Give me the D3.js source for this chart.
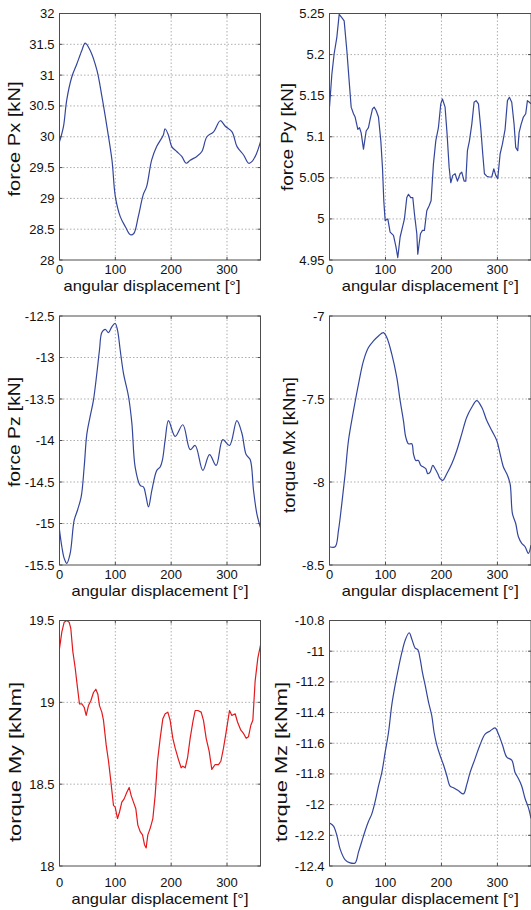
<!DOCTYPE html>
<meta charset="utf-8">
<title>Forces and torques vs angular displacement</title>
<style>
  body {
    margin: 0;
    background: #fff;
  }

  svg {
    display: block;
    font-family: "Liberation Sans", Arial, Helvetica, sans-serif;
  }

  .frame {
    fill: none;
    stroke: #4d4d4d;
    stroke-width: 1px;
  }

  .grid line {
    stroke: #9a9a9a;
    stroke-width: 0.8px;
    stroke-dasharray: 1.5, 2;
  }

  .tick-mark {
    stroke: #4d4d4d;
    stroke-width: 1px;
  }

  .tick-label {
    font-size: 13px;
    fill: #111;
  }

  .axis-label {
    font-size: 16px;
    fill: #111;
  }

  .x-label {
    font-size: 15px;
  }

  .curve {
    fill: none;
    stroke-width: 1.2px;
    stroke-linejoin: round;
  }
</style>
<svg width="531" height="910"></svg>
<script src="https://cdn.jsdelivr.net/npm/d3@7"></script>
<script>
  // shared x axis
  var xTicks = [0, 100, 200, 300];

  // force Px [kN]
  var pxAngle = [0, 7, 13, 22, 31, 40, 46, 55, 67, 76, 85, 94, 100, 109, 118, 127, 133, 141, 150, 156, 165, 174, 186, 189, 195, 201, 210, 219, 227, 234, 246, 255, 264, 276, 288, 297, 309, 318, 330, 339, 345, 353, 360];
  var pxValue = [29.92, 30.16, 30.6, 30.97, 31.18, 31.4, 31.52, 31.4, 31.08, 30.65, 30.16, 29.62, 29.03, 28.7, 28.54, 28.41, 28.43, 28.7, 29.06, 29.19, 29.62, 29.84, 30.03, 30.13, 30.03, 29.84, 29.76, 29.68, 29.57, 29.62, 29.68, 29.76, 30.0, 30.08, 30.26, 30.17, 30.08, 29.84, 29.7, 29.57, 29.6, 29.73, 29.92];
  var pxTicks = [28, 28.5, 29, 29.5, 30, 30.5, 31, 31.5, 32];

  // force Py [kN]
  var pyAngle = [0, 4.2, 8.3, 13.1, 17.3, 22, 26.2, 31, 35.1, 38.7, 42.9, 45.8, 50.6, 53.6, 56.5, 60.7, 65.5, 69.6, 72.6, 76.8, 79.8, 83.3, 87.5, 91.7, 94.6, 97, 99.4, 104.2, 108.3, 114.3, 118.5, 122, 126.2, 130.4, 133.9, 138.1, 141.1, 145.2, 148.8, 151.8, 156, 157.7, 162.5, 166.1, 169.6, 173.8, 178, 181.5, 185.7, 189.9, 194.6, 198.8, 201.8, 206.5, 210.1, 213.7, 216.7, 220.2, 224.4, 228.6, 233.3, 236.3, 240.5, 243.5, 246.4, 250, 254.2, 258.3, 261.9, 266.1, 270.2, 273.8, 276.8, 281, 285.1, 289.9, 293.5, 297, 300.6, 304.8, 308.9, 313.7, 317.9, 321.4, 325.6, 329.8, 332.7, 336.3, 338.7, 342.3, 346.4, 350.6, 353.6, 357.1, 360];
  var pyValue = [5.136, 5.176, 5.201, 5.221, 5.249, 5.245, 5.241, 5.205, 5.168, 5.136, 5.128, 5.124, 5.109, 5.111, 5.105, 5.085, 5.107, 5.111, 5.121, 5.134, 5.136, 5.132, 5.124, 5.095, 5.063, 5.022, 4.998, 5.0, 4.984, 4.98, 4.967, 4.953, 4.978, 4.99, 5.0, 5.026, 5.03, 5.026, 5.026, 5.006, 4.982, 4.957, 4.982, 4.986, 4.986, 5.01, 5.016, 5.022, 5.067, 5.095, 5.111, 5.14, 5.146, 5.136, 5.103, 5.063, 5.044, 5.053, 5.055, 5.046, 5.055, 5.057, 5.046, 5.046, 5.083, 5.095, 5.115, 5.142, 5.144, 5.14, 5.111, 5.079, 5.055, 5.052, 5.051, 5.051, 5.061, 5.053, 5.049, 5.079, 5.091, 5.109, 5.144, 5.148, 5.142, 5.115, 5.087, 5.083, 5.105, 5.115, 5.124, 5.128, 5.144, 5.142, 5.14];
  var pyTicks = [4.95, 5, 5.05, 5.1, 5.15, 5.2, 5.25];

  // force Pz [kN]
  var pzAngle = [0, 4.2, 8.4, 13.1, 19.1, 26.3, 32.2, 38.8, 44.2, 49, 54.9, 60.9, 66.9, 71.6, 75.8, 81.8, 87.8, 93.7, 99.7, 103.9, 108.7, 114.6, 123.6, 129.6, 135.5, 144.5, 150.4, 154.6, 159.4, 165.4, 174.3, 180.3, 184.5, 189.3, 195.2, 207.2, 220.9, 234, 243, 256.7, 268.7, 280.6, 292.5, 304.5, 317.6, 326.6, 334.3, 341.5, 347.5, 353.4, 360];
  var pzValue = [-15.08, -15.28, -15.42, -15.48, -15.36, -14.96, -14.84, -14.68, -14.32, -13.92, -13.71, -13.51, -13.19, -12.91, -12.7, -12.66, -12.7, -12.63, -12.59, -12.67, -12.91, -13.19, -13.47, -13.79, -14.32, -14.54, -14.56, -14.66, -14.8, -14.6, -14.36, -14.32, -14.23, -13.99, -13.76, -13.95, -13.81, -14.11, -14.06, -14.36, -14.17, -14.3, -13.99, -14.06, -13.76, -13.91, -14.17, -14.23, -14.6, -14.88, -15.05];
  var pzTicks = [-15.5, -15, -14.5, -14, -13.5, -13, -12.5];

  // torque Mx [kNm]
  var mxAngle = [0, 10.1, 16.1, 22, 28, 33.9, 42.9, 51.8, 60.7, 69.6, 78.6, 87.5, 96.4, 102.4, 111.3, 120.2, 126.2, 132.1, 136.3, 141.1, 147, 150, 154.2, 158.9, 163.1, 167.9, 172, 175.6, 179.8, 184.5, 188.7, 193.5, 197.6, 202.4, 209.5, 218.5, 227.4, 236.3, 245.2, 254.2, 263.1, 272, 281, 289.9, 298.8, 304.8, 310.7, 316.7, 322.6, 326.8, 332.7, 337.5, 343.5, 349.4, 355.4, 360];
  var mxValue = [-8.39, -8.39, -8.29, -8.13, -7.95, -7.75, -7.57, -7.41, -7.27, -7.19, -7.15, -7.12, -7.1, -7.13, -7.23, -7.37, -7.51, -7.63, -7.73, -7.77, -7.77, -7.83, -7.87, -7.87, -7.9, -7.91, -7.92, -7.95, -7.94, -7.9, -7.92, -7.95, -7.98, -7.99, -7.95, -7.89, -7.81, -7.71, -7.61, -7.55, -7.51, -7.55, -7.63, -7.69, -7.75, -7.83, -7.91, -7.95, -8.01, -8.19, -8.25, -8.33, -8.37, -8.39, -8.43, -8.38];
  var mxTicks = [-8.5, -8, -7.5, -7];

  // torque My [kNm]
  var myAngle = [0, 4.2, 8.4, 13.1, 17.3, 20.3, 23.9, 28.1, 32.2, 35.8, 40, 44.2, 47.8, 51.9, 56.1, 60.9, 65.1, 68.7, 71.6, 75.8, 78.8, 83.6, 87.8, 91.9, 96.7, 99.7, 103.9, 107.5, 111.6, 115.8, 120.6, 124.8, 128.4, 132.5, 136.7, 140.3, 144.5, 148.7, 152.2, 155.2, 158.2, 162.4, 167.2, 171.3, 175.5, 180.3, 185.1, 189.3, 194, 198.2, 203, 207.2, 213.1, 217.9, 220.9, 225.1, 229.3, 234, 238.8, 243, 247.8, 253.7, 257.9, 262.7, 268.1, 272.8, 278.8, 284.8, 289, 293.7, 298.5, 304.5, 308.7, 314.6, 318.8, 324.8, 329.6, 334.3, 338.5, 342.7, 346.3, 350.4, 355.2, 360];
  var myValue = [19.33, 19.43, 19.49, 19.5, 19.49, 19.45, 19.31, 19.21, 19.09, 18.99, 18.99, 18.97, 18.92, 18.98, 19.01, 19.06, 19.08, 19.05, 18.98, 18.94, 18.89, 18.74, 18.64, 18.52, 18.37, 18.36, 18.29, 18.33, 18.39, 18.41, 18.45, 18.48, 18.43, 18.39, 18.35, 18.25, 18.21, 18.19, 18.13, 18.11, 18.19, 18.23, 18.29, 18.43, 18.64, 18.78, 18.9, 18.93, 18.94, 18.89, 18.78, 18.72, 18.65, 18.6, 18.61, 18.6, 18.66, 18.78, 18.88, 18.95, 18.95, 18.94, 18.89, 18.78, 18.7, 18.59, 18.62, 18.62, 18.64, 18.72, 18.82, 18.95, 18.92, 18.93, 18.88, 18.83, 18.81, 18.78, 18.79, 18.86, 18.89, 19.13, 19.27, 19.35];
  var myTicks = [18, 18.5, 19, 19.5];

  // torque Mz [kNm]
  var mzAngle = [0, 7.1, 13.1, 19, 28, 36.9, 45.8, 51.8, 57.7, 63.7, 69.6, 75.6, 81.5, 87.5, 93.5, 99.4, 105.4, 111.3, 117.3, 123.2, 129.2, 135.1, 142.3, 147, 153, 157.7, 161.9, 166.1, 170.8, 176.8, 182.7, 186.9, 191.7, 197.6, 203.6, 209.5, 215.5, 221.4, 230.4, 239.3, 245.2, 251.2, 260.1, 269, 278, 286.9, 295.8, 301.8, 308.9, 316.7, 325.6, 331.5, 337.5, 343.5, 349.4, 355.4, 360];
  var mzValue = [-12.12, -12.14, -12.2, -12.29, -12.36, -12.38, -12.38, -12.31, -12.24, -12.17, -12.11, -12.06, -11.98, -11.88, -11.79, -11.66, -11.53, -11.35, -11.22, -11.11, -11.01, -10.93, -10.88, -10.92, -10.98, -10.99, -11.05, -11.14, -11.22, -11.33, -11.42, -11.53, -11.61, -11.68, -11.74, -11.81, -11.88, -11.89, -11.91, -11.93, -11.87, -11.79, -11.7, -11.61, -11.54, -11.52, -11.5, -11.54, -11.61, -11.69, -11.71, -11.79, -11.83, -11.88, -11.96, -12.02, -12.09];
  var mzTicks = [-12.4, -12.2, -12, -11.8, -11.6, -11.4, -11.2, -11, -10.8];

  var blue = "#34469c",
    red = "#e3191c";

  var panels = [
    {angle: pxAngle, value: pxValue, ticks: pxTicks, label: "force Px [kN]", color: blue, smooth: true,
      x: 59.5, y: 13.5, w: 201, h: 246.5, tickDy: 13.5, labelDy: 30.5, labelX: 152, yl: {x: 14, y: 139, len: 115}},
    {angle: pyAngle, value: pyValue, ticks: pyTicks, label: "force Py [kN]", color: blue, smooth: false,
      x: 329.5, y: 13.5, w: 201.5, h: 246.5, tickDy: 13.5, labelDy: 30.5, yl: {x: 287, y: 137, len: 108}},
    {angle: pzAngle, value: pzValue, ticks: pzTicks, label: "force Pz [kN]", color: blue, smooth: true,
      x: 59.5, y: 316, w: 201, h: 249, tickDy: 13.5, labelDy: 30.5, yl: {x: 14, y: 432, len: 110}},
    {angle: mxAngle, value: mxValue, ticks: mxTicks, label: "torque Mx [kNm]", color: blue, smooth: true,
      x: 329.5, y: 316, w: 201.5, h: 249, tickDy: 13.5, labelDy: 30.5, yl: {x: 289, y: 445, len: 136}},
    {angle: myAngle, value: myValue, ticks: myTicks, label: "torque My [kNm]", color: red, smooth: false,
      x: 59.5, y: 620.5, w: 201, h: 245.5, tickDy: 20.5, labelDy: 37.5, yl: {x: 15, y: 762, len: 160}},
    {angle: mzAngle, value: mzValue, ticks: mzTicks, label: "torque Mz [kNm]", color: blue, smooth: true,
      x: 329.5, y: 620.5, w: 201.5, h: 245.5, tickDy: 20.5, labelDy: 37.5, yl: {x: 281, y: 762, len: 160}}
  ];

  var svg = d3.select("svg");
  var defs = svg.append("defs");

  panels.forEach(function(p, i) {
    var x = d3.scaleLinear().domain([0, 360]).range([0, p.w]);
    var y = d3.scaleLinear().domain(d3.extent(p.ticks)).range([p.h, 0]);

    defs.append("clipPath")
      .attr("id", "clip-" + i)
      .append("rect")
      .attr("width", p.w)
      .attr("height", p.h);

    var g = svg.append("g")
      .attr("transform", "translate(" + p.x + "," + p.y + ")");

    // grid
    var grid = g.append("g").attr("class", "grid");
    grid.selectAll(".gx")
      .data(xTicks.filter(function(t) { return t > 0; }))
      .enter().append("line")
      .attr("x1", x).attr("x2", x)
      .attr("y1", 0).attr("y2", p.h);
    grid.selectAll(".gy")
      .data(p.ticks.slice(1, -1))
      .enter().append("line")
      .attr("y1", y).attr("y2", y)
      .attr("x1", 0).attr("x2", p.w);

    // curve
    var line = d3.line()
      .x(function(d) { return x(d[0]); })
      .y(function(d) { return y(d[1]); })
      .curve(p.smooth ? d3.curveCatmullRom.alpha(0.5) : d3.curveLinear);

    g.append("path")
      .datum(d3.zip(p.angle, p.value))
      .attr("class", "curve")
      .attr("clip-path", "url(#clip-" + i + ")")
      .attr("stroke", p.color)
      .attr("d", line);

    // frame + inward ticks (matlab box)
    g.append("rect")
      .attr("class", "frame")
      .attr("width", p.w)
      .attr("height", p.h);

    xTicks.forEach(function(t) {
      g.append("line").attr("class", "tick-mark")
        .attr("x1", x(t)).attr("x2", x(t)).attr("y1", p.h).attr("y2", p.h - 3);
      g.append("line").attr("class", "tick-mark")
        .attr("x1", x(t)).attr("x2", x(t)).attr("y1", 0).attr("y2", 3);
    });
    p.ticks.forEach(function(t) {
      g.append("line").attr("class", "tick-mark")
        .attr("x1", 0).attr("x2", 3).attr("y1", y(t)).attr("y2", y(t));
      g.append("line").attr("class", "tick-mark")
        .attr("x1", p.w).attr("x2", p.w - 3).attr("y1", y(t)).attr("y2", y(t));
    });

    // tick labels
    g.selectAll(".yt")
      .data(p.ticks)
      .enter().append("text")
      .attr("class", "tick-label")
      .attr("x", -5)
      .attr("y", y)
      .attr("dy", "0.35em")
      .attr("text-anchor", "end")
      .text(function(d) { return String(d); });

    g.selectAll(".xt")
      .data(xTicks)
      .enter().append("text")
      .attr("class", "tick-label")
      .attr("x", x)
      .attr("y", p.h + p.tickDy)
      .attr("text-anchor", "middle")
      .text(function(d) { return d; });

    // axis labels
    g.append("text")
      .attr("class", "axis-label x-label")
      .attr("x", p.labelX != null ? p.labelX - p.x : p.w / 2)
      .attr("y", p.h + p.labelDy)
      .attr("text-anchor", "middle")
      .attr("textLength", 177)
      .attr("lengthAdjust", "spacingAndGlyphs")
      .text("angular displacement [\u00b0]");

    svg.append("text")
      .attr("class", "axis-label")
      .attr("transform", "translate(" + p.yl.x + "," + p.yl.y + ") rotate(-90)")
      .attr("dy", "0.35em")
      .attr("text-anchor", "middle")
      .attr("textLength", p.yl.len)
      .attr("lengthAdjust", "spacingAndGlyphs")
      .text(p.label);
  });
</script>
